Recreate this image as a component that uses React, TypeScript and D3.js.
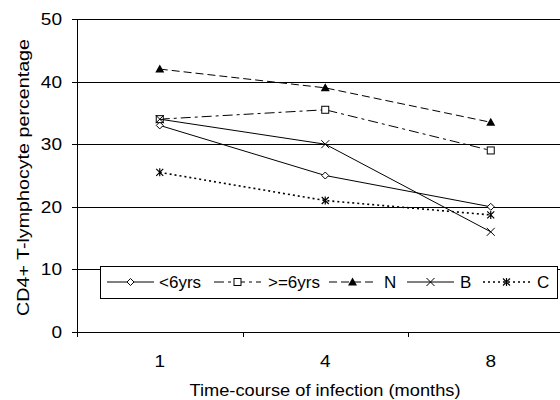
import React from 'react';
import * as d3 from 'd3';

// chart values
const months = ['1', '4', '8'];
const yTicks = [0, 10, 20, 30, 40, 50];
const under6 = [33, 25, 20];
const over6 = [34, 35.5, 29];
const groupN = [42, 39, 33.5];
const groupB = [34, 30, 16];
const groupC = [25.5, 21, 18.7];

const seriesNames = ['<6yrs', '>=6yrs', 'N', 'B', 'C'];
const seriesValues = [under6, over6, groupN, groupB, groupC];

// look of each series
const styles = [
  { dash: null, width: 1, marker: 'diamond' },
  { dash: '10,4,3,4', width: 1, marker: 'square' },
  { dash: '8,4', width: 1, marker: 'triangle' },
  { dash: null, width: 1, marker: 'cross' },
  { dash: '2,3', width: 1.6, marker: 'star' },
];

const W = 560;
const H = 400;
const left = 77;
const top = 19;
const bottom = 332;
const right = 573.5;
const font = 'Arial, "Liberation Sans", Helvetica, sans-serif';

// where each legend entry starts (line start, text start)
const legendLineX = [107, 214, 329, 407, 483];
const legendTextX = [159, 268, 384, 460, 537];

function Marker({ kind, x, y }: { kind: string; x: number; y: number }) {
  if (kind === 'diamond') {
    return <path d={`M${x},${y - 3.5}L${x + 3.5},${y}L${x},${y + 3.5}L${x - 3.5},${y}Z`} fill="#fff" stroke="#000" strokeWidth={1} />;
  }
  if (kind === 'square') {
    return <rect x={x - 3.5} y={y - 3.5} width={7} height={7} fill="#fff" stroke="#000" strokeWidth={1} />;
  }
  if (kind === 'triangle') {
    return <path d={`M${x},${y - 4.5}L${x + 4.5},${y + 3.5}L${x - 4.5},${y + 3.5}Z`} fill="#000" />;
  }
  if (kind === 'cross') {
    return <path d={`M${x - 4},${y - 4}L${x + 4},${y + 4}M${x - 4},${y + 4}L${x + 4},${y - 4}`} stroke="#000" strokeWidth={1} />;
  }
  // asterisk
  return <path d={`M${x - 3.5},${y - 3.5}L${x + 3.5},${y + 3.5}M${x - 3.5},${y + 3.5}L${x + 3.5},${y - 3.5}M${x},${y - 4}L${x},${y + 4}`} stroke="#000" strokeWidth={1.2} />;
}

// tick numbers in the original are a little wider than Arial
function Label({ x, y, anchor, stretch, children }: { x: number; y: number; anchor?: string; stretch?: number; children: React.ReactNode }) {
  return (
    <text transform={`translate(${x},${y}) scale(${stretch || 1},1)`} textAnchor={anchor || 'start'} fontFamily={font} fontSize={17}>
      {children}
    </text>
  );
}

export default function App() {
  const x = d3.scaleBand<string>().domain(months).range([left, right]).padding(0);
  const y = d3.scaleLinear().domain([0, 50]).range([bottom, top]);
  const cx = (m: string) => (x(m) as number) + x.bandwidth() / 2;

  const line = d3
    .line<number>()
    .x((_, i) => cx(months[i]))
    .y((d) => y(d));

  const bounds = [...months.map((m) => x(m) as number), right];
  const legendTop = 266;
  const legendBottom = 298;
  const legendMid = (legendTop + legendBottom) / 2;

  return (
    <svg width={W} height={H} style={{ position: 'absolute', left: 0, top: 0, background: '#fff' }}>
      <rect width={W} height={H} fill="#fff" />

      {/* gridlines */}
      {yTicks.filter((t) => t > 0).map((t) => (
        <line key={t} x1={left} x2={right} y1={Math.round(y(t)) + 0.5} y2={Math.round(y(t)) + 0.5} stroke="#000" strokeWidth={1} />
      ))}

      {/* axes */}
      <line x1={left + 0.5} x2={left + 0.5} y1={top} y2={bottom + 0.5} stroke="#000" />
      <line x1={left} x2={right} y1={bottom + 0.5} y2={bottom + 0.5} stroke="#000" />
      {yTicks.map((t) => (
        <g key={t}>
          <line x1={left - 5} x2={left} y1={Math.round(y(t)) + 0.5} y2={Math.round(y(t)) + 0.5} stroke="#000" />
          <Label x={62} y={y(t) + 6} anchor="end" stretch={1.12}>
            {t}
          </Label>
        </g>
      ))}
      {bounds.map((b, i) => (
        <line key={i} x1={Math.round(b) + 0.5} x2={Math.round(b) + 0.5} y1={bottom} y2={bottom + 5} stroke="#000" />
      ))}
      {months.map((m) => (
        <Label key={m} x={cx(m)} y={367} anchor="middle" stretch={1.12}>
          {m}
        </Label>
      ))}

      {/* series */}
      {seriesValues.map((vals, si) => (
        <g key={si}>
          <path d={line(vals) || ''} fill="none" stroke="#000" strokeWidth={styles[si].width} strokeDasharray={styles[si].dash || undefined} />
          {vals.map((v, i) => (
            <Marker key={i} kind={styles[si].marker} x={cx(months[i])} y={y(v)} />
          ))}
        </g>
      ))}

      {/* legend */}
      <rect x={100.5} y={legendTop + 0.5} width={457} height={legendBottom - legendTop} fill="#fff" stroke="#000" strokeWidth={1} />
      {seriesNames.map((name, i) => (
        <g key={name}>
          <line
            x1={legendLineX[i]}
            x2={legendLineX[i] + 47}
            y1={legendMid}
            y2={legendMid}
            stroke="#000"
            strokeWidth={styles[i].width}
            strokeDasharray={styles[i].dash || undefined}
          />
          <Marker kind={styles[i].marker} x={legendLineX[i] + 23.5} y={legendMid} />
          <Label x={legendTextX[i]} y={legendMid + 6}>
            {name}
          </Label>
        </g>
      ))}

      {/* axis titles */}
      <text x={325} y={396} textAnchor="middle" fontFamily={font} fontSize={17} textLength={271} lengthAdjust="spacingAndGlyphs">
        Time-course of infection (months)
      </text>
      <text
        transform={`translate(29,${(39 + 316) / 2}) rotate(-90)`}
        textAnchor="middle"
        fontFamily={font}
        fontSize={17}
        textLength={277}
        lengthAdjust="spacingAndGlyphs"
      >
        CD4+ T-lymphocyte percentage
      </text>
    </svg>
  );
}
